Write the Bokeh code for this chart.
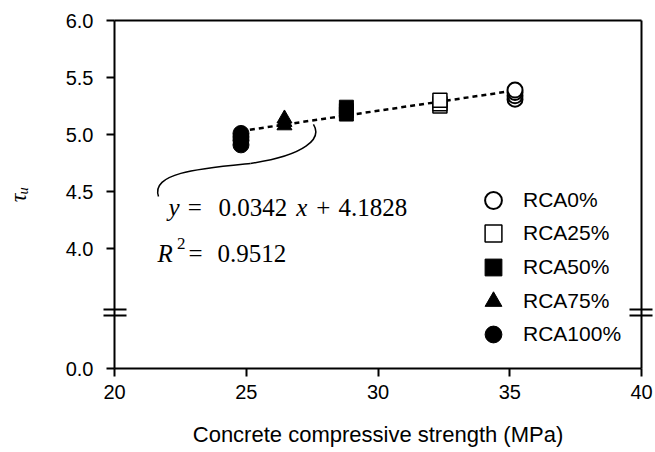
from bokeh.plotting import figure
from bokeh.models import (Range1d, FixedTicker, LinearAxis, Label,
                          Legend, LegendItem, NumeralTickFormatter)
from bokeh.embed import file_html
from bokeh.resources import INLINE

# ---- data ----
rca0_x = [35.2, 35.2, 35.2, 35.2]
rca0_y = [5.31, 5.34, 5.37, 5.39]
rca25_x = [32.35, 32.35, 32.35]
rca25_y = [5.25, 5.27, 5.30]
rca50_x = [28.8, 28.8, 28.8]
rca50_y = [5.18, 5.21, 5.24]
rca75_x = [26.45, 26.45, 26.45]
rca75_y = [5.08, 5.11, 5.14]
rca100_x = [24.8, 24.8, 24.8, 24.8]
rca100_y = [4.91, 4.95, 4.98, 5.01]
series_names = ["RCA0%", "RCA25%", "RCA50%", "RCA75%", "RCA100%"]
slope = 0.0342
intercept = 4.1828
fit_x = [24.8, 35.2]
x_ticks = [20, 25, 30, 35, 40]
y_ticks = [2.95, 4.0, 4.5, 5.0, 5.5, 6.0]
y_zero_pos = 2.95  # display position of the 0.0 tick (broken axis)
y_break = 3.44
break_marks = [y_break - 0.028, y_break + 0.028]

SANS = "Liberation Sans"
SERIF = "Liberation Serif"

p = figure(width=655, height=452, output_backend="svg", toolbar_location=None,
           x_range=Range1d(20, 40), y_range=Range1d(y_zero_pos, 6.0),
           min_border_left=114, min_border_right=14, min_border_top=20,
           min_border_bottom=84, x_axis_location=None, y_axis_location=None)
p.grid.visible = False
p.outline_line_color = None
p.background_fill_color = "white"
p.border_fill_color = "white"

def style_axis(ax, labels=True):
    ax.axis_line_width = 2
    ax.axis_line_color = "black"
    ax.major_tick_line_width = 2
    ax.major_tick_in = 0
    ax.major_tick_out = 8 if labels else 0
    ax.minor_tick_line_color = None
    ax.major_label_text_font = SANS
    ax.major_label_text_font_size = "20px"
    ax.major_label_text_color = "black"
    if not labels:
        ax.major_label_text_font_size = "0px"
        ax.major_tick_line_color = None

def break_style(ax):
    ax.minor_tick_line_color = "black"
    ax.minor_tick_line_width = 2
    ax.minor_tick_in = 12
    ax.minor_tick_out = 11

xb = LinearAxis(ticker=FixedTicker(ticks=x_ticks),
                axis_label="Concrete compressive strength (MPa)")
style_axis(xb)
xb.major_label_standoff = 8
xb.axis_label_text_font = SANS
xb.axis_label_text_font_size = "22px"
xb.axis_label_text_font_style = "normal"
xb.axis_label_text_color = "black"
xb.axis_label_standoff = 20
p.add_layout(xb, "below")

yl = LinearAxis(ticker=FixedTicker(ticks=y_ticks, minor_ticks=break_marks),
                axis_label="τᵤ")
style_axis(yl)
break_style(yl)
yl.major_label_standoff = 10
yl.formatter = NumeralTickFormatter(format="0.0")
yl.major_label_overrides = {y_zero_pos: "0.0"}
yl.axis_label_text_font = SERIF
yl.axis_label_text_font_size = "24px"
yl.axis_label_text_font_style = "italic"
yl.axis_label_text_color = "black"
yl.axis_label_standoff = 32
p.add_layout(yl, "left")

xt = LinearAxis(ticker=FixedTicker(ticks=[]))
style_axis(xt, labels=False)
p.add_layout(xt, "above")
yr = LinearAxis(ticker=FixedTicker(ticks=[], minor_ticks=break_marks))
style_axis(yr, labels=False)
break_style(yr)
p.add_layout(yr, "right")

# trend line
fit_y = [slope * v + intercept for v in fit_x]
p.line(fit_x, fit_y, line_color="black", line_width=2.5, line_dash="5 4")

r0 = p.scatter(rca0_x, rca0_y, marker="circle", size=15, fill_color="white",
               line_color="black", line_width=2)
r25 = p.scatter(rca25_x, rca25_y, marker="square", size=14, fill_color="white",
                line_color="black", line_width=1.5)
r50 = p.scatter(rca50_x, rca50_y, marker="square", size=14, fill_color="black",
                line_color="black", line_width=1)
r75 = p.scatter(rca75_x, rca75_y, marker="triangle", size=15, fill_color="black",
                line_color="black", line_width=1)
r100 = p.scatter(rca100_x, rca100_y, marker="circle", size=16, fill_color="black",
                 line_color="black", line_width=1)

# one legend per entry so that rows can be closer than the glyph box
legend_rows_y = [147, 114, 80, 46, 13]
for name, rend, ly in zip(series_names, [r0, r25, r50, r75, r100], legend_rows_y):
    lg = Legend(items=[LegendItem(label=name, renderers=[rend])],
                location=(358, ly), glyph_width=42, glyph_height=42,
                label_height=42, spacing=0, label_standoff=9,
                padding=0, margin=0, border_line_color=None,
                background_fill_alpha=0, label_text_color="black",
                label_text_font=SANS, label_text_font_size="21px")
    p.add_layout(lg, "center")

# annotation curve (brace) pointing to the trend line
p.bezier(x0=[27.55, 25.16], y0=[5.089, 4.747], x1=[25.16, 21.67], y1=[4.747, 4.457],
         cx0=[27.89, 23.26], cy0=[4.966, 4.703], cx1=[27.25, 21.37], cy1=[4.817, 4.668],
         line_color="black", line_width=1.5)

# equation texts
def lab(x, y, t, size="25px", style="normal"):
    p.add_layout(Label(x=x, y=y, text=t, text_font=SERIF, text_font_size=size,
                       text_font_style=style, text_baseline="alphabetic",
                       text_color="black"))

lab(22.05, 4.361, "y", style="italic")
lab(22.78, 4.361, "=")
lab(23.95, 4.361, "0.0342")
lab(26.90, 4.361, "x", style="italic")
lab(27.66, 4.361, "+")
lab(28.50, 4.361, "4.1828")
lab(21.63, 3.958, "R", style="italic")
lab(22.37, 4.046, "2", size="17px")
lab(22.81, 3.958, "=")
lab(23.91, 3.958, "0.9512")

open("out.html", "w").write(file_html(p, INLINE))
